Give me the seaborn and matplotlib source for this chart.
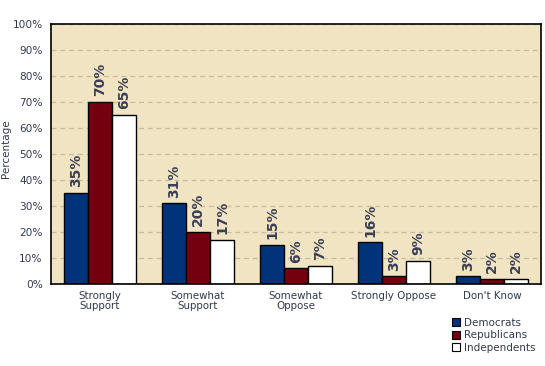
import matplotlib
matplotlib.use("Agg")
import matplotlib.pyplot as plt
import seaborn as sns
import pandas as pd
from matplotlib.ticker import FixedLocator, PercentFormatter
from matplotlib.patches import Patch

categories = ["Strongly\nSupport", "Somewhat\nSupport", "Somewhat\nOppose", "Strongly Oppose", "Don't Know"]
series = ["Democrats", "Republicans", "Independents"]
democrats = [35, 31, 15, 16, 3]
republicans = [70, 20, 6, 3, 2]
independents = [65, 17, 7, 9, 2]
colors = ["#00337A", "#74000F", "#FFFFFF"]

rows = []
for s, vals in zip(series, [democrats, republicans, independents]):
    for c, v in zip(categories, vals):
        rows.append({"Category": c, "Party": s, "Value": v})
df = pd.DataFrame(rows)

sns.set_theme(style="white")
plt.rcParams['font.family'] = ['DejaVu Sans']
text_color = "#333850"

fig = plt.figure(figsize=(5.45, 3.66), dpi=100)
ax = fig.add_axes([0.0936, 0.224, 0.8991, 0.7104])
ax.set_facecolor("#F1E4C3")

sns.barplot(data=df, x="Category", y="Value", hue="Party", palette=colors,
            width=0.735, edgecolor="black", linewidth=1.0, ax=ax, legend=False,
            saturation=1)

for cont in ax.containers:
    labels = [f"{int(round(b.get_height()))}%" for b in cont]
    ax.bar_label(cont, labels=labels, rotation=90, padding=4, fontsize=10,
                 fontweight="bold", color="#3A3F55")

ax.set_ylim(0, 100)
ax.set_xlim(-0.5, len(categories) - 0.5)
ax.yaxis.set_major_locator(FixedLocator(range(0, 101, 10)))
ax.yaxis.set_major_formatter(PercentFormatter(decimals=0))
ax.grid(axis="y", linestyle=(0, (4, 3)), color="#C9BC9C", linewidth=0.9)
ax.set_axisbelow(True)

ax.set_xlabel("")
ax.set_ylabel("Percentage", fontsize=7.5, color=text_color)
ax.yaxis.set_label_coords(-0.081, 0.52)
ax.tick_params(axis="x", which="major", length=0, labelsize=7.4, colors=text_color, pad=5)
ax.tick_params(axis="y", which="major", length=4, width=1, labelsize=7.6, colors=text_color, pad=2, direction="out", color="black")
ax.set_xticks([i - 0.5 for i in range(len(categories) + 1)], minor=True)
ax.tick_params(axis="x", which="minor", length=4, width=1, color=text_color, direction="out")
for lab in ax.get_xticklabels():
    lab.set_linespacing(0.95)

for sp in ["left", "bottom", "top", "right"]:
    ax.spines[sp].set_visible(True)
    ax.spines[sp].set_color("black")
    ax.spines[sp].set_linewidth(1.2)

handles = [Patch(facecolor=c, edgecolor="black", linewidth=0.8) for c in colors]
fig.legend(handles, series, loc="lower right", bbox_to_anchor=(1.0, 0.01), frameon=False,
           fontsize=7.5, handlelength=0.8, handleheight=0.8, handletextpad=0.4,
           labelspacing=0.25, labelcolor=text_color)

fig.savefig("out.png", dpi=100)
